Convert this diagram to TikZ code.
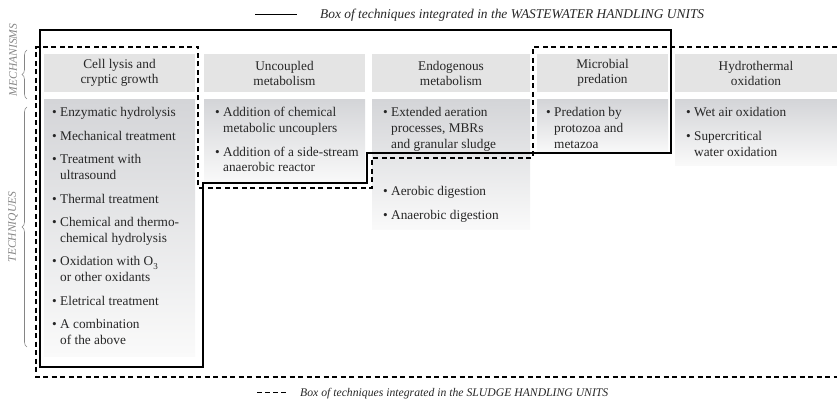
\documentclass[tikz,border=0pt]{standalone}
\usepackage{fontspec}
\setmainfont{Liberation Serif}
\usetikzlibrary{decorations.pathreplacing}
\definecolor{hdrfill}{gray}{0.895}
\definecolor{shadetop}{RGB}{212,213,216}
\definecolor{shadebot}{RGB}{250,250,250}
\definecolor{lblgray}{gray}{0.52}
\definecolor{txt}{gray}{0.15}
\tikzset{
  hdrbox/.style={fill=hdrfill, inner sep=0pt, align=center, text=txt,
    font=\fontsize{13.3}{15}\selectfont, minimum height=38pt},
  techshade/.style={top color=shadetop, bottom color=shadebot},
  itm/.style={anchor=base west, inner sep=0pt, text=txt, font=\fontsize{13.3}{15}\selectfont},
  wwline/.style={line width=1.2pt, line join=miter},
  slline/.style={line width=1.1pt, dash pattern=on 5pt off 3.5pt},
  sidelbl/.style={rotate=90, text=lblgray, font=\fontsize{11.5}{13}\itshape},
  sidebrace/.style={draw=lblgray, line width=0.6pt, decorate, decoration={brace, amplitude=5pt}},
  legtext/.style={anchor=base west, inner sep=0pt, text=txt, font=\itshape}
}
\newcommand{\bul}{\textbullet\ }
\newcommand{\ind}{\hphantom{\textbullet\ }}
\begin{document}
\begin{tikzpicture}[x=1pt, y=-1pt]
\useasboundingbox (0,0) rectangle (837,403);

% technique panels (gradient)
\shade[techshade] (44,100) rectangle (195,356);
\shade[techshade] (204,100) rectangle (365,184);
\shade[techshade] (372,100) rectangle (530,230);
\shade[techshade] (537,100) rectangle (668,154);
\shade[techshade] (675,100) rectangle (837,166);

% mechanism headers
\node[hdrbox, minimum width=151pt] (h1) at (119.5,73) {Cell lysis and\\cryptic growth};
\node[hdrbox, minimum width=161pt] (h2) at (284.5,73) {Uncoupled\\metabolism};
\node[hdrbox, minimum width=158pt] (h3) at (451,73) {Endogenous\\metabolism};
\node[hdrbox, minimum width=131pt] (h4) at (602.5,73) {Microbial\\predation};
\node[hdrbox, minimum width=162pt] (h5) at (756,73) {Hydrothermal\\oxidation};

% cell lysis techniques
\node[itm] (a1) at (52,117) {\bul Enzymatic hydrolysis};
\node[itm] (a2) at (52,140.5) {\bul Mechanical treatment};
\node[itm] (a3) at (52,164) {\bul Treatment with};
\node[itm] (a3b) at (52,179.7) {\ind ultrasound};
\node[itm] (a4) at (52,203.2) {\bul Thermal treatment};
\node[itm] (a5) at (52,226.7) {\bul Chemical and thermo-};
\node[itm] (a5b) at (52,242.4) {\ind chemical hydrolysis};
\node[itm] (a6) at (52,265.9) {\bul Oxidation with O\raisebox{-3.5pt}{\fontsize{9}{9}\selectfont 3}};
\node[itm] (a6b) at (52,281.6) {\ind or other oxidants};
\node[itm] (a7) at (52,305.1) {\bul Eletrical treatment};
\node[itm] (a8) at (52,328.6) {\bul A combination};
\node[itm] (a8b) at (52,344.3) {\ind of the above};

% uncoupled metabolism techniques
\node[itm] (b1) at (215,117) {\bul Addition of chemical};
\node[itm] (b1b) at (215,132.7) {\ind metabolic uncouplers};
\node[itm] (b2) at (215,156.2) {\bul Addition of a side-stream};
\node[itm] (b2b) at (215,171.9) {\ind anaerobic reactor};

% endogenous metabolism techniques
\node[itm] (c1) at (383,117) {\bul Extended aeration};
\node[itm] (c1b) at (383,132.7) {\ind processes, MBRs};
\node[itm] (c1c) at (383,148.4) {\ind and granular sludge};
\node[itm] (c2) at (383,196) {\bul Aerobic digestion};
\node[itm] (c3) at (383,219.5) {\bul Anaerobic digestion};

% microbial predation techniques
\node[itm] (d1) at (546,117) {\bul Predation by};
\node[itm] (d1b) at (546,132.7) {\ind protozoa and};
\node[itm] (d1c) at (546,148.4) {\ind metazoa};

% hydrothermal oxidation techniques
\node[itm] (e1) at (686,117) {\bul Wet air oxidation};
\node[itm] (e2) at (686,140.5) {\bul Supercritical};
\node[itm] (e2b) at (686,156.2) {\ind water oxidation};

% wastewater handling units outline
\draw[wwline] (40,30) -- (671,30) -- (671,153) -- (367,153) -- (367,183)
  -- (203,183) -- (203,367) -- (40,367) -- cycle;

% sludge handling units outline
\draw[slline] (845,47) -- (533,47) -- (533,158) -- (372,158) -- (372,188)
  -- (198,188) -- (198,47) -- (36,47) -- (36,377) -- (845,377);

% side labels
\draw[sidebrace] (27,99) -- (27,50);
\draw[sidebrace] (27,347) -- (27,107);
\node[sidelbl] (mech) at (13,60) {MECHANISMS};
\node[sidelbl] (tech) at (13,227) {TECHNIQUES};

% legend
\coordinate (lw1) at (255,14.5);
\coordinate (lw2) at (297,14.5);
\draw[wwline] (lw1) -- (lw2);
\node[legtext, font=\fontsize{13.4}{15}\itshape] (lwt) at (320,18.5) {Box of techniques integrated in the WASTEWATER HANDLING UNITS};
\coordinate (ls1) at (257,392);
\coordinate (ls2) at (287,392);
\draw[line width=1pt, dash pattern=on 5pt off 3pt] (ls1) -- (ls2);
\node[legtext, font=\fontsize{11.7}{14}\itshape] (lst) at (300,396) {Box of techniques integrated in the SLUDGE HANDLING UNITS};
\end{tikzpicture}
\end{document}
